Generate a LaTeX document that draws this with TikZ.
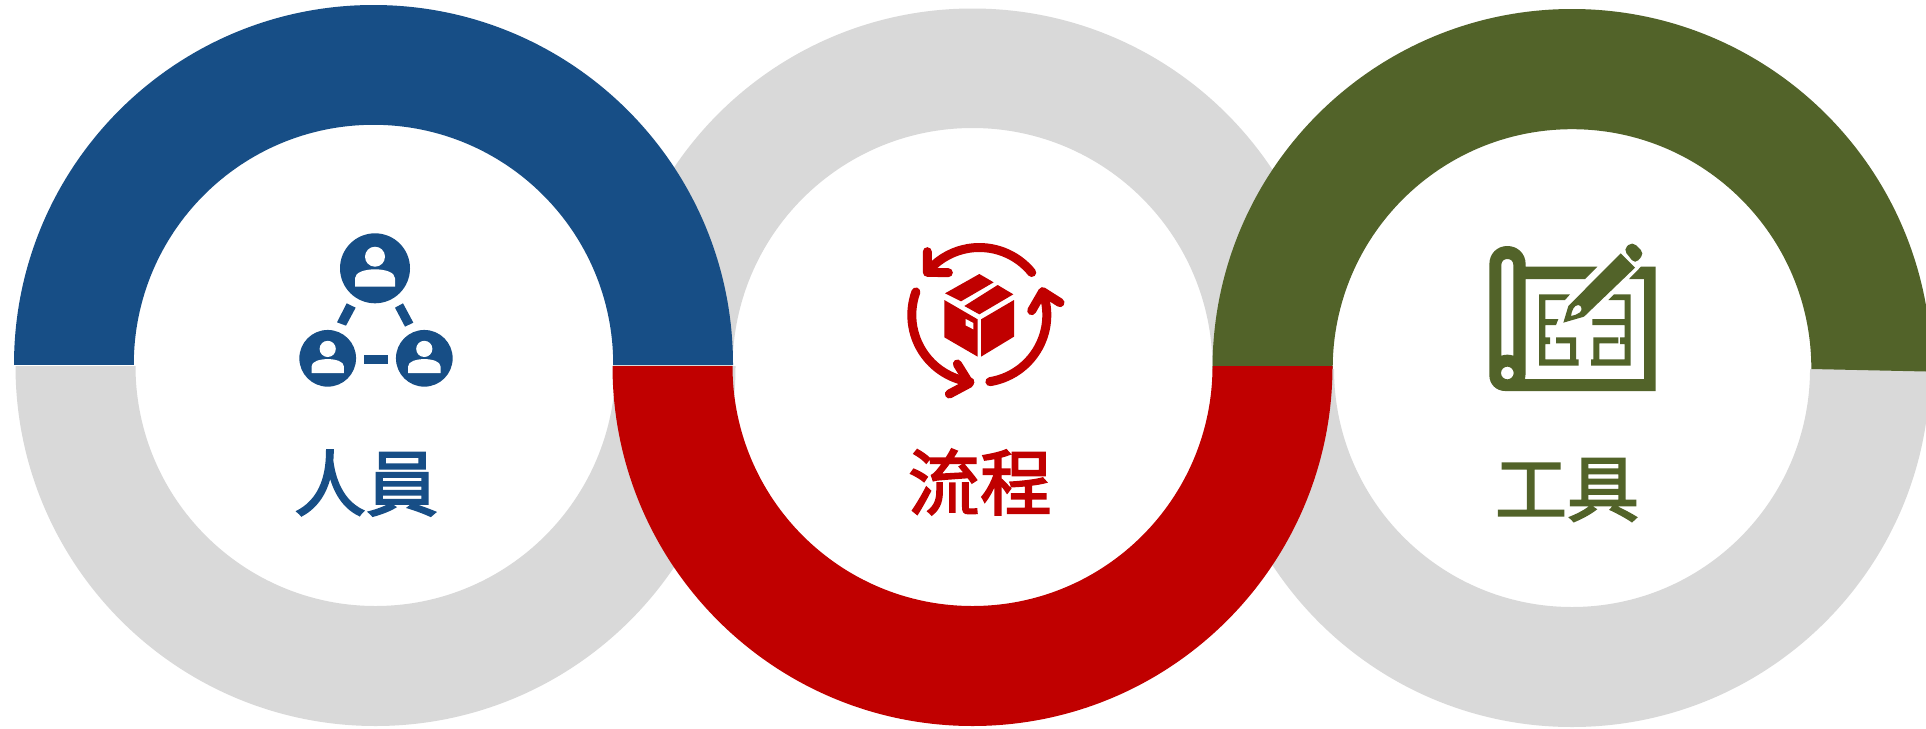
\documentclass[tikz,border=0pt]{standalone}
\usepackage{fontspec}
\newfontfamily\cjk[FakeBold=2.5]{Noto Sans CJK TC}
\definecolor{ringgray}{HTML}{D9D9D9}
\definecolor{cblue}{HTML}{174E86}
\definecolor{cred}{HTML}{C00000}
\definecolor{colive}{HTML}{526329}
% colour, centre x, centre y, outer r, inner r
\newcommand{\ringfill}[5]{\fill[#1,even odd rule] (#2,#3) circle[radius=#4pt] (#2,#3) circle[radius=#5pt];}
\newcommand{\personicon}[3]{%
 \begin{scope}[shift={(#1,#2)},scale=#3]
  \fill[cblue] (0,0) circle[radius=35pt];
  \fill[white] (0,-11.6) circle[radius=10pt];
  \fill[white] (-20,18.4) -- (-20,10) .. controls (-20,4) and (-10,1) .. (0,1) .. controls (10,1) and (20,4) .. (20,10) -- (20,18.4) -- cycle;
 \end{scope}}
\tikzset{
 labeltext/.style={inner sep=0pt,font=\cjk\fontsize{72}{72}\selectfont},
 cycleline/.style={cred,line width=9pt,line cap=round,line join=round},
 crop/.style={shift={(#1)},scale=1/3}
}
\begin{document}
\begin{tikzpicture}[x=1pt,y=-1pt]
\useasboundingbox (0,0) rectangle (1926,728);
\fill[white] (0,0) rectangle (1926,728);
% grey halves
\begin{scope}
 \clip (0,366) rectangle (760,728);
 \ringfill{ringgray}{375.5}{366}{360}{240}
\end{scope}
\begin{scope}
 \clip (1190,369) rectangle (1926,728);
 \ringfill{ringgray}{1572}{369}{358}{238}
\end{scope}
\begin{scope}
 \clip (600,0) rectangle (1345,368);
 \ringfill{ringgray}{972.5}{368}{359.5}{240}
\end{scope}
% coloured halves
\begin{scope}
 \clip (0,0) rectangle (760,364.5);
 \ringfill{cblue}{373.5}{364.5}{359.5}{239.7}
\end{scope}
\begin{scope}
 \clip (1200,0) -- (1926,0) -- (1926,371.5) -- (1811,369) -- (1200,368.5) -- cycle;
 \ringfill{colive}{1572}{368.5}{359.5}{239.3}
\end{scope}
\begin{scope}
 \clip (600,366) rectangle (1345,728);
 \ringfill{cred}{972.5}{366}{360}{240}
\end{scope}
% people icon
\personicon{375}{268.3}{1}
\personicon{327.7}{358.3}{0.81}
\personicon{424.3}{358.3}{0.81}
\begin{scope}[crop={220,210}]
 \fill[cblue] (380,280) -- (407,293) -- (378,347) -- (351,337) -- cycle;
 \fill[cblue] (525,293) -- (549,280) -- (580,338) -- (555,350) -- cycle;
 \fill[cblue] (433,435) rectangle (503,463);
\end{scope}
\node[labeltext,text=cblue] (people) at (366,483) {人員};
% cycle icon
\coordinate (cyc) at (979.3,315);
\draw[cycleline] (cyc) ++(39:67.5pt) arc[start angle=39,end angle=137,radius=67.5pt];
\draw[cycleline] (cyc) ++(160:67.5pt) arc[start angle=160,end angle=262,radius=67.5pt];
\draw[cycleline] (cyc) ++(279:67.5pt) arc[start angle=279,end angle=380,radius=67.5pt];
\begin{scope}[crop={850,220}]
 \draw[cycleline] (232,95) -- (232,157) -- (295,158);
 \draw[cycleline] (322,432) -- (358,490) -- (298,522);
 \draw[cycleline] (630,248) -- (578,215) -- (545,272);
 \fill[cred] (388,162) -- (431,187) -- (333,244) -- (285,220) -- cycle;
 \fill[cred] (443,195) -- (490,223) -- (388,283) -- (343,258) -- cycle;
 \fill[cred] (283,240) -- (383,298) -- (383,410) -- (283,352) -- cycle;
 \fill[cred] (393,298) -- (492,240) -- (492,350) -- (393,410) -- cycle;
 \fill[white] (347,297) -- (370,309) -- (370,328) -- (347,316) -- cycle;
\end{scope}
\node[labeltext,text=cred] (process) at (980,482) {流程};
% blueprint icon
\begin{scope}[crop={1460,220}]
 \fill[colive,even odd rule]
  (88,133) .. controls (88,100) and (112,78) .. (142,78) .. controls (172,78) and (197,100) .. (197,133)
  -- (197,140) -- (412,140) -- (375,177) -- (197,177) -- (197,460) -- (195,477) -- (552,477) -- (552,177) -- (507,177) -- (543,140) -- (587,140) -- (587,513) -- (135,513)
  .. controls (108,513) and (88,492) .. (88,466) -- cycle
  (124,135) .. controls (124,123) and (132,117) .. (142,117) .. controls (152,117) and (160,123) .. (160,135) -- (160,407) .. controls (148,403) and (136,403) .. (124,407) -- cycle
  (142,459) circle[radius=19];
 \fill[colive] (330,223) -- (315,240) -- (256,240) -- (256,297) -- (295,297) -- (288,315) -- (256,315) -- (256,352) -- (270,352) -- (270,372) -- (256,372) -- (256,418) -- (330,418) -- (330,370) -- (288,370) -- (288,352) -- (348,352) -- (348,418) -- (356,418) -- (356,437) -- (237,437) -- (237,223) -- cycle;
 \fill[colive] (462,223) -- (512,223) -- (512,437) -- (393,437) -- (393,418) -- (400,418) -- (400,352) -- (475,352) -- (475,370) -- (418,370) -- (418,418) -- (494,418) -- (494,372) -- (480,372) -- (480,352) -- (494,352) -- (494,315) -- (397,315) -- (397,297) -- (494,297) -- (494,240) -- (445,240) -- cycle;
 \fill[colive,even odd rule] (482,100) -- (525,143) -- (372,290) -- (310,308) -- (325,258) -- cycle
  (333,288) .. controls (335,272) and (342,255) .. (355,255) .. controls (365,256) and (368,270) .. (360,277) .. controls (352,284) and (342,286) .. (333,288) -- cycle;
 \fill[colive,rounded corners=5pt] (490,88) -- (517,65) -- (553,100) -- (525,132) -- cycle;
\end{scope}
\node[labeltext,text=colive] (tools) at (1567,490) {工具};
\end{tikzpicture}
\end{document}
